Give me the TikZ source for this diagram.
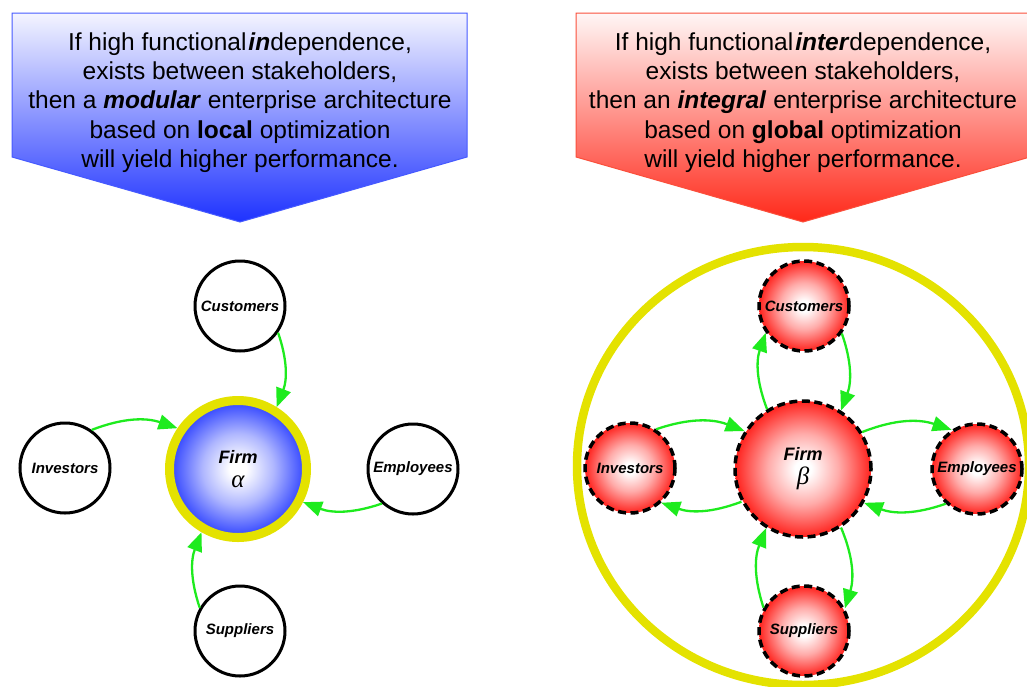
\documentclass[tikz,border=0pt]{standalone}
\usepackage{fontspec}
\setmainfont{Liberation Sans}
\newfontfamily\greekfont{Liberation Serif}
\usetikzlibrary{arrows.meta}

\definecolor{ringyellow}{RGB}{228,226,0}
\definecolor{linkgreen}{RGB}{30,235,30}
\definecolor{firmblue}{RGB}{45,65,255}
\definecolor{firmred}{RGB}{255,35,30}
\definecolor{boxblue}{RGB}{30,50,255}
\definecolor{boxred}{RGB}{255,40,25}
\definecolor{edgeblue}{RGB}{70,90,255}
\definecolor{edgered}{RGB}{250,80,60}

% ball and banner shadings (the shaded path spans 25bp..75bp of the shading box)
\pgfdeclareradialshading{blueball}{\pgfpoint{0bp}{0bp}}{color(0bp)=(white); color(3bp)=(white); color(13bp)=(white!62!firmblue); color(25bp)=(firmblue); color(50bp)=(firmblue)}
\pgfdeclareradialshading{redball}{\pgfpoint{0bp}{0bp}}{color(0bp)=(white); color(3bp)=(white); color(13bp)=(white!62!firmred); color(25bp)=(firmred); color(50bp)=(firmred)}
\pgfdeclareverticalshading{bluefade}{100bp}{color(0bp)=(boxblue); color(25bp)=(boxblue); color(75bp)=(white!95!boxblue); color(100bp)=(white!95!boxblue)}
\pgfdeclareverticalshading{redfade}{100bp}{color(0bp)=(boxred); color(25bp)=(boxred); color(75bp)=(white!96!boxred); color(100bp)=(white!96!boxred)}

\tikzset{
  headtext/.style={align=center, font=\fontsize{24.5}{29.2}\selectfont, inner sep=0pt},
  nodelabel/.style={font=\fontsize{15}{18}\selectfont\bfseries\itshape},
  plainnode/.style={circle, draw=black, line width=3pt, fill=white, minimum size=90pt, inner sep=0pt, nodelabel},
  rednode/.style={circle, draw=black, line width=3.5pt, dash pattern=on 8pt off 4.5pt, shade, shading=redball, minimum size=90pt, inner sep=0pt, nodelabel},
  firmalpha/.style={circle, draw=ringyellow, line width=9pt, shade, shading=blueball, minimum size=137pt, inner sep=0pt, align=center, font=\fontsize{18}{22}\selectfont\bfseries\itshape},
  firmbeta/.style={circle, draw=black, line width=3.5pt, dash pattern=on 8pt off 4.5pt, shade, shading=redball, minimum size=136pt, inner sep=0pt, align=center, font=\fontsize{18}{22}\selectfont\bfseries\itshape},
  link/.style={draw=linkgreen, line width=2.3pt, -{Triangle[length=19pt,width=15pt]}, bend left=20},
}

\newcommand{\greekletter}[1]{{\greekfont\mdseries\itshape\fontsize{25}{20}\selectfont #1}}

\begin{document}
\begin{tikzpicture}[x=1pt,y=1pt]
\useasboundingbox (0,0) rectangle (1027,-686);

% banners
\path[shade, shading=bluefade, draw=edgeblue, line width=1pt]
  (12,-13) -- (467,-13) -- (467,-157) -- (240,-222) -- (12,-157) -- cycle;
\path[shade, shading=redfade, draw=edgered, line width=1pt]
  (576,-13) -- (1030,-13) -- (1030,-157) -- (803,-222) -- (576,-157) -- cycle;

\node[headtext] (lefttext) at (240,-102.6) {If high functional\hspace{2pt}\textbf{\textit{in}}dependence,\\
exists between stakeholders,\\
then a \textbf{\textit{modular}} enterprise architecture\\
based on \textbf{local} optimization\\
will yield higher performance.};

\node[headtext] (righttext) at (803,-102.6) {If high functional\hspace{2pt}\textbf{\textit{inter}}dependence,\\
exists between stakeholders,\\
then an \textbf{\textit{integral}} enterprise architecture\\
based on \textbf{global} optimization\\
will yield higher performance.};

% modular enterprise
\node[firmalpha] (fa) at (238,-469) {Firm\\[2pt]\greekletter{α}};
\node[plainnode] (cl) at (240,-306) {Customers};
\node[plainnode] (il) at (65,-468) {Investors};
\node[plainnode] (el) at (413,-469) {Employees};
\node[plainnode] (sl) at (240,-631) {Suppliers};

\draw[link] (cl.-35) to (fa.58);
\draw[link] (il.55) to (fa.146);
\draw[link] (el.228) to (fa.-27);
\draw[link] (sl.150) to (fa.240);

% integral enterprise
\draw[ringyellow, line width=8.5pt] (803,-466) ellipse [x radius=226, y radius=219];

\node[firmbeta] (fb) at (803,-469) {Firm\\[2pt]\greekletter{β}};
\node[rednode] (cr) at (804,-306) {Customers};
\node[rednode] (ir) at (630,-468) {Investors};
\node[rednode] (er) at (977,-469) {Employees};
\node[rednode] (sr) at (804,-631) {Suppliers};

\draw[link] (fb.121) to (cr.215);
\draw[link] (cr.-36) to (fb.57);
\draw[link] (ir.56) to (fb.147);
\draw[link] (fb.208) to (ir.-48);
\draw[link] (fb.32) to (er.123);
\draw[link] (er.228) to (fb.-29);
\draw[link] (sr.150) to (fb.238);
\draw[link] (fb.-57) to (sr.29);
\end{tikzpicture}
\end{document}
